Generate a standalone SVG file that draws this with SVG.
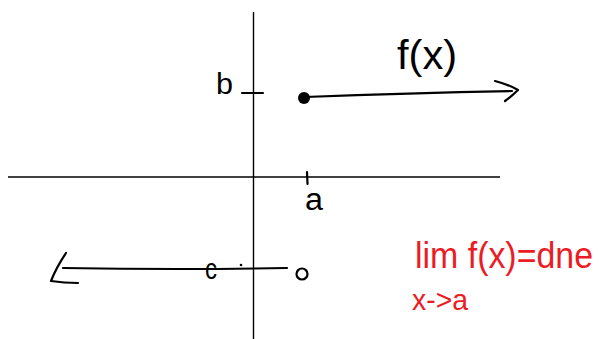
<svg xmlns="http://www.w3.org/2000/svg" width="603" height="339" viewBox="0 0 603 339">
<style>
.ax{stroke:#000;stroke-width:1.4;fill:none}
.ink{stroke:#000;stroke-width:2.2;fill:none;stroke-linecap:round;stroke-linejoin:round}
.lbl{font-family:"Liberation Sans",Arial,sans-serif;fill:#000}
.red{font-family:"Liberation Sans",Arial,sans-serif;fill:#ec1c24}
</style>
<rect width="603" height="339" fill="#fff"/>
<g id="axes">
<line class="ax" x1="253.5" y1="12" x2="253.5" y2="339"/>
<line class="ax" x1="8" y1="177" x2="500" y2="177"/>
<line class="ink" x1="242" y1="93" x2="263" y2="93"/>
<line class="ink" x1="307" y1="172" x2="307.5" y2="184"/>
<text class="lbl" x="216" y="94" font-size="29" textLength="17" lengthAdjust="spacingAndGlyphs">b</text>
<text class="lbl" x="305" y="210" font-size="31" textLength="18" lengthAdjust="spacingAndGlyphs">a</text>
</g>
<g id="upper-piece">
<path class="ink" d="M305 97 Q410 93 512 91"/>
<path class="ink" d="M495 81 Q510 85 518 90 Q512 96 505 101"/>
<circle cx="304" cy="98" r="6" fill="#000"/>
<text class="lbl" x="397" y="69" font-size="40" textLength="60" lengthAdjust="spacingAndGlyphs">f(x)</text>
</g>
<g id="lower-piece">
<path class="ink" d="M63 268 Q180 270 287 268"/>
<path class="ink" d="M66 253 Q56 268 51 281 Q64 283 78 283"/>
<circle cx="241" cy="265" r="1.3" fill="#000"/>
<circle cx="302" cy="274" r="5.5" fill="none" stroke="#000" stroke-width="2.2"/>
<text class="lbl" x="205" y="279" font-size="30" textLength="12" lengthAdjust="spacingAndGlyphs">c</text>
</g>
<g id="limit-note">
<text class="red" x="415" y="268" font-size="36" textLength="178" lengthAdjust="spacingAndGlyphs">lim f(x)=dne</text>
<text class="red" x="412" y="310" font-size="30" textLength="56" lengthAdjust="spacingAndGlyphs">x-&gt;a</text>
</g>
</svg>
